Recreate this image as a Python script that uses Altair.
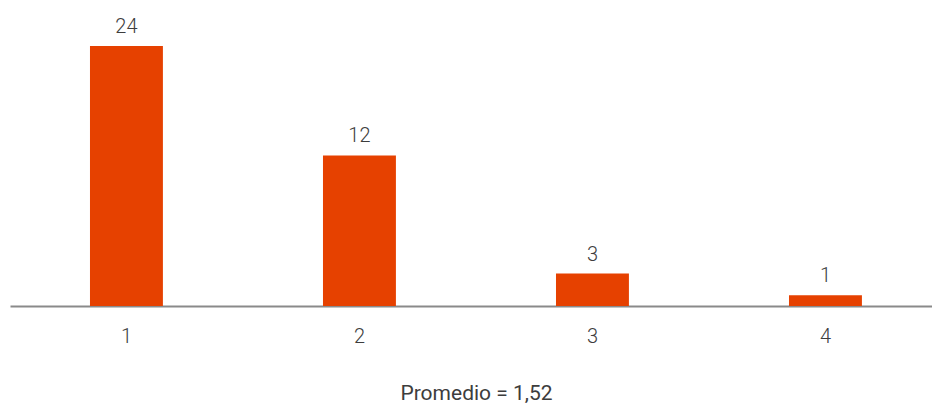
import altair as alt
import pandas as pd

categories = ["1", "2", "3", "4"]
bar_heights = [24, 13.9, 3, 1]
labels = ["24", "12", "3", "1"]
axis_title = "Promedio = 1,52"

df = pd.DataFrame({"cat": categories, "value": bar_heights, "label": labels})

FONT = "Roboto"
TXT = "#3d3d3d"

x = alt.X(
    "cat:O",
    sort=categories,
    scale=alt.Scale(paddingInner=0.687, paddingOuter=0.322, align=0.533),
    axis=alt.Axis(
        title=axis_title,
        labelAngle=0,
        ticks=False,
        tickSize=0,
        domainColor="#8a8a8a",
        domainWidth=2,
        labelFont=FONT,
        labelFontSize=20,
        labelFontWeight=300,
        labelColor=TXT,
        labelBaseline="alphabetic",
        labelPadding=36,
        titleFont=FONT,
        titleFontSize=21,
        titleFontWeight=400,
        titleColor=TXT,
        titleBaseline="alphabetic",
        titlePadding=53,
        titleX=466,
    ),
)
y = alt.Y("value:Q", scale=alt.Scale(domain=[0, 28.25], nice=False, zero=True), axis=None)

bars = alt.Chart(df).mark_bar(color="#E64100").encode(x=x, y=y)
text = alt.Chart(df).mark_text(
    baseline="alphabetic", dy=-13, font=FONT, fontSize=20, fontWeight=300, color=TXT
).encode(x=x, y=y, text="label:N")

chart = (
    alt.layer(bars, text)
    .properties(
        width=922,
        height=306,
        padding={"left": 10, "right": 0, "top": 0, "bottom": 98},
        autosize=alt.AutoSizeParams(type="none"),
    )
    .configure_view(stroke=None)
    .configure_axis(grid=False)
)

chart.save("out.html", embed_options={"renderer": "svg", "actions": False})
